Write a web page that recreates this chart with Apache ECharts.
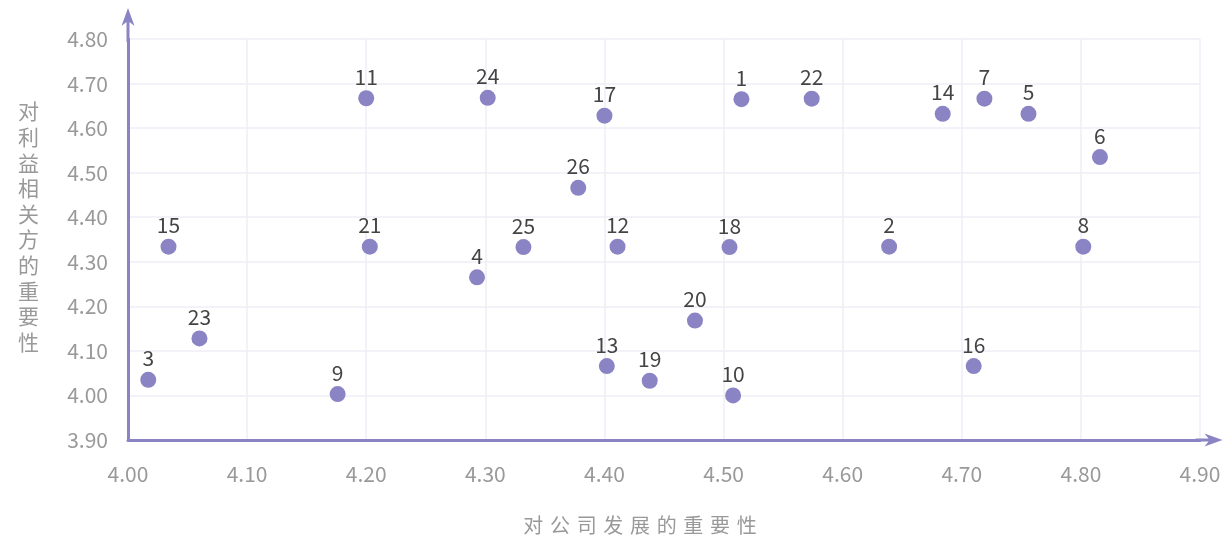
<!DOCTYPE html>
<html>
<head>
<meta charset="utf-8">
<script src="https://cdn.jsdelivr.net/npm/echarts@6/dist/echarts.min.js"></script>
<style>html,body{margin:0;padding:0;background:#fff;}#c{width:1225px;height:540px;}</style>
</head>
<body>
<div id="c"></div>
<script>
const ids = ['1','2','3','4','5','6','7','8','9','10','11','12','13','14','15','16','17','18','19','20','21','22','23','24','25','26'];
const companyImportance = [4.515,4.639,4.017,4.293,4.756,4.816,4.719,4.802,4.176,4.508,4.200,4.411,4.402,4.684,4.034,4.710,4.400,4.505,4.438,4.476,4.203,4.574,4.060,4.302,4.332,4.378];
const stakeholderImportance = [4.665,4.334,4.035,4.265,4.632,4.535,4.666,4.334,4.003,4.000,4.667,4.334,4.066,4.632,4.334,4.066,4.628,4.333,4.033,4.168,4.334,4.666,4.128,4.668,4.333,4.466];
const xName = '对公司发展的重要性';
const yName = '对利益相关方的重要性';

const purple = '#8a84c4';
const font = '"Noto Sans CJK SC", "Noto Sans", sans-serif';
const data = ids.map((id, i) => [companyImportance[i], stakeholderImportance[i], id]);
const arrowPath = 'path://M6.5 0 L13 18 L8 14 L8 27 L5 27 L5 14 L0 18 Z';
const arrowPathY = 'path://M6.5 0 L13 18 L8 14 L8 34 L5 34 L5 14 L0 18 Z';

const chart = echarts.init(document.getElementById('c'));
chart.setOption({
  animation: false,
  textStyle: { fontFamily: font },
  grid: { left: 128, right: 25, top: 39, bottom: 99, containLabel: false },
  xAxis: {
    type: 'value', min: 4.0, max: 4.9, interval: 0.1,
    name: xName.split('').join('\u2004'),
    nameLocation: 'middle', nameGap: 75,
    nameTextStyle: { color: '#999', fontSize: 20, fontFamily: font, padding: [0, 48, 0, 0] },
    axisLine: { show: true, onZero: false, lineStyle: { color: purple, width: 3 },
      symbol: ['none', arrowPath], symbolSize: [13, 27], symbolOffset: [0, 9] },
    axisTick: { show: false },
    axisLabel: { color: '#999', fontSize: 21, margin: 24, fontFamily: font, formatter: v => v.toFixed(2) },
    splitLine: { show: true, lineStyle: { color: '#efeef7', width: 1.5 } }
  },
  yAxis: {
    type: 'value', min: 3.9, max: 4.8, interval: 0.1,
    name: yName.split('').join('\n') + '\n',
    nameLocation: 'middle', nameGap: 89, nameRotate: 0,
    nameTextStyle: { color: '#999', fontSize: 21, lineHeight: 25.6, fontFamily: font },
    axisLine: { show: true, onZero: false, lineStyle: { color: purple, width: 3 },
      symbol: ['none', arrowPathY], symbolSize: [13, 34], symbolOffset: [0, 14] },
    axisTick: { show: false },
    axisLabel: { color: '#999', fontSize: 21, margin: 20, fontFamily: font, formatter: v => v.toFixed(2) },
    splitLine: { show: true, lineStyle: { color: '#efeef7', width: 1.5 } }
  },
  series: [{
    type: 'scatter',
    data: data,
    symbolSize: 16,
    itemStyle: { color: purple, opacity: 1 },
    label: { show: true, position: 'top', distance: 3, formatter: p => p.data[2], color: '#444', fontSize: 21, fontFamily: font }
  }]
});
</script>
</body>
</html>
